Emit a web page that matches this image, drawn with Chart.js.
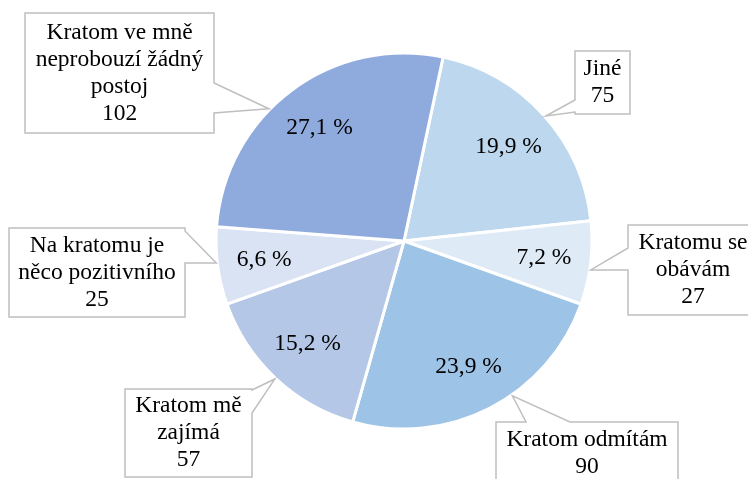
<!DOCTYPE html>
<html><head><meta charset="utf-8">
<script src="https://cdn.jsdelivr.net/npm/chart.js@4.4.1/dist/chart.umd.min.js"></script>
<style>html,body{margin:0;padding:0;background:#fff;overflow:hidden}</style>
</head><body>
<canvas id="c" width="748" height="479"></canvas>
<script>
const categories = ["Jiné","Kratomu se obávám","Kratom odmítám","Kratom mě zajímá","Na kratomu je něco pozitivního","Kratom ve mně neprobouzí žádný postoj"];
const counts = [75,27,90,57,25,102];
const sliceColors = ["#BDD7EE","#DEEBF7","#9DC3E6","#B4C7E7","#DAE3F3","#8FAADC"];

// callout box placement (layout only)
const calloutLayout = [
  {x:575,y:51,w:55,h:63,side:'left',b0:100,b1:112,tipFrac:0.51},
  {x:628,y:225,w:130,h:90,side:'left',b0:248,b1:270,tipFrac:0.58},
  {x:496,y:422,w:182,h:63,side:'top',b0:526,b1:570,tipFrac:0.41},
  {x:125,y:389,w:127,h:88,side:'right',b0:390,b1:413,tipFrac:0.5},
  {x:9,y:228,w:176,h:89,side:'right',b0:231,b1:263,tipFrac:0.54},
  {x:25,y:13,w:189,h:120,side:'right',b0:83,b1:113,tipFrac:0.41}
];
const FONT = '23.5px "Liberation Serif", "Times New Roman", serif';
const LINE_H = 27;

const total = counts.reduce((a,b)=>a+b,0);
const percentLabels = counts.map(v => (v/total*100).toFixed(1).replace('.', ',') + ' %');

function wrap(ctx, text, maxW){
  const words = text.split(' ');
  const lines = [];
  let cur = '';
  for (const w of words){
    const t = cur ? cur + ' ' + w : w;
    if (ctx.measureText(t).width > maxW && cur){ lines.push(cur); cur = w; }
    else cur = t;
  }
  if (cur) lines.push(cur);
  return lines;
}

const calloutPlugin = {
  id: 'callouts',
  afterDatasetsDraw(chart){
    const ctx = chart.ctx;
    const meta = chart.getDatasetMeta(0);
    ctx.save();
    ctx.font = FONT;
    ctx.fillStyle = '#000';
    ctx.textAlign = 'center';
    ctx.textBaseline = 'middle';
    meta.data.forEach((arc, i) => {
      const p = arc.getProps(['x','y','startAngle','endAngle','outerRadius'], true);
      const mid = (p.startAngle + p.endAngle)/2;
      const r = p.outerRadius * 0.75;
      ctx.fillStyle = '#000';
      ctx.fillText(percentLabels[i], p.x + Math.cos(mid)*r, p.y + Math.sin(mid)*r);

      const L = calloutLayout[i];
      const ta = p.startAngle + (p.endAngle - p.startAngle) * L.tipFrac;
      const tr = p.outerRadius + 1;
      const tip = [p.x + Math.cos(ta)*tr, p.y + Math.sin(ta)*tr];
      const x0 = L.x, y0 = L.y, x1 = L.x + L.w, y1 = L.y + L.h;
      const pts = [[x0,y0]];
      if (L.side === 'top') pts.push([L.b0,y0], tip, [L.b1,y0]);
      pts.push([x1,y0]);
      if (L.side === 'right') pts.push([x1,L.b0], tip, [x1,L.b1]);
      pts.push([x1,y1],[x0,y1]);
      if (L.side === 'left') pts.push([x0,L.b1], tip, [x0,L.b0]);
      ctx.beginPath();
      pts.forEach((q, k) => k ? ctx.lineTo(q[0], q[1]) : ctx.moveTo(q[0], q[1]));
      ctx.closePath();
      ctx.fillStyle = '#fff';
      ctx.fill();
      ctx.lineWidth = 1.5;
      ctx.strokeStyle = '#BFBFBF';
      ctx.stroke();

      const lines = wrap(ctx, categories[i], L.w - 10);
      lines.push(String(counts[i]));
      const startY = y0 + (L.h - lines.length*LINE_H)/2 + LINE_H/2;
      ctx.fillStyle = '#000';
      lines.forEach((ln, k) => ctx.fillText(ln, (x0+x1)/2, startY + k*LINE_H));
    });
    ctx.restore();
  }
};

new Chart(document.getElementById('c'), {
  type: 'pie',
  data: {
    labels: categories,
    datasets: [{
      data: counts,
      backgroundColor: sliceColors,
      borderColor: '#FFFFFF',
      borderWidth: 3
    }]
  },
  options: {
    responsive: false,
    animation: false,
    rotation: 12,
    radius: 188,
    layout: { padding: { left: 60, right: 0, top: 3, bottom: 0 } },
    plugins: { legend: { display: false }, tooltip: { enabled: false } }
  },
  plugins: [calloutPlugin]
});
</script>
</body></html>
